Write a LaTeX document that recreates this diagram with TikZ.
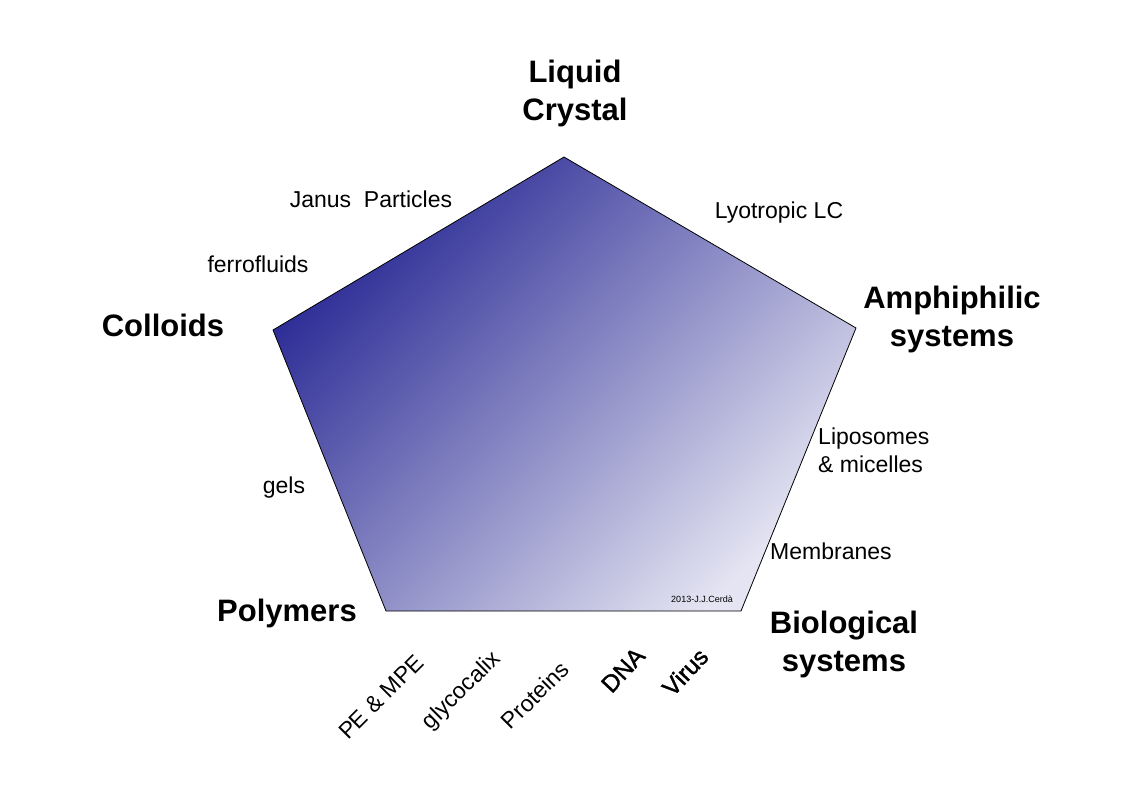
\documentclass[tikz,border=0pt]{standalone}
\usepackage{fontspec}
\setmainfont{Liberation Sans}
\newfontfamily\semibfont[FakeBold=1.6]{Liberation Sans}
\definecolor{penDark}{RGB}{40,40,148}
\definecolor{penLight}{RGB}{228,228,242}
\begin{document}
\begin{tikzpicture}[x=1pt,y=-1pt,
  lbl/.style={font=\fontsize{23}{28}\selectfont, inner sep=0pt},
  head/.style={font=\bfseries\fontsize{31}{38}\selectfont, align=center, inner sep=0pt},
  diag/.style={font=\fontsize{23}{28}\selectfont, inner sep=0pt, rotate=45},
  diagb/.style={font=\semibfont\fontsize{24}{28}\selectfont, inner sep=0pt, rotate=47}]
\path[use as bounding box] (0,0) rectangle (1123,794);
% pentagon vertices
\coordinate (T) at (564,157);
\coordinate (L) at (273,330);
\coordinate (R) at (856,328);
\coordinate (BL) at (386,611);
\coordinate (BR) at (741,611);
\shade[top color=penDark, bottom color=penLight, shading angle=45, draw=black, line width=0.8pt, line join=miter]
  (T) -- (R) -- (BR) -- (BL) -- (L) -- cycle;
% corner headings
\node[head] (lc) at (575,93) {Liquid\\Crystal};
\node[head] (amph) at (952,319) {Amphiphilic\\systems};
\node[head] (coll) at (163,325) {Colloids};
\node[head] (poly) at (287,613) {Polymers};
\node[head] (bio) at (844,644) {Biological\\systems};
% side labels
\node[lbl] (janus) at (371,199) {Janus\ \ Particles};
\node[lbl] (lyo) at (779,213) {Lyotropic LC};
\node[lbl] (ferro) at (258,264) {ferrofluids};
\node[lbl] (gels) at (284,488) {gels};
\node[lbl, align=left, anchor=west] (lipo) at (818,450) {Liposomes\\\& micelles};
\node[lbl, anchor=west] (memb) at (770,551) {Membranes};
\node[font=\fontsize{9}{11}\selectfont, inner sep=0pt] (copy) at (702,599) {2013-J.J.Cerdà};
% rotated labels
\node[diag] (pe) at (381,697) {PE \& MPE};
\node[diag] (gly) at (462,691) {glycocalix};
\node[diag] (prot) at (535,695) {Proteins};
\node[diagb] (dna) at (623,670) {DNA};
\node[diagb] (virus) at (685,672) {Virus};
\end{tikzpicture}
\end{document}
